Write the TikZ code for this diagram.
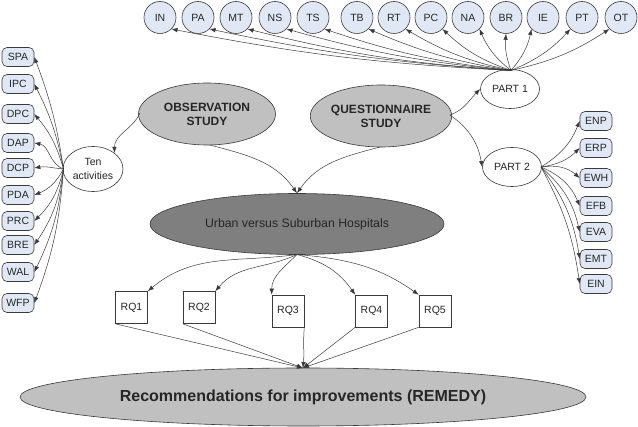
\documentclass[tikz,border=0pt]{standalone}
\usepackage{fontspec}
\setmainfont{Liberation Sans}
\usetikzlibrary{arrows.meta}
\definecolor{lblue}{HTML}{E0E8F5}
\definecolor{lgrey}{HTML}{C0C0C0}
\definecolor{dgrey}{HTML}{7F7F7F}
\definecolor{edge}{HTML}{3A3A3A}
\begin{document}
\begin{tikzpicture}[x=1pt,y=-1pt,
  every node/.style={inner sep=0pt, font=\fontsize{10.5}{12}\selectfont, text=black!85},
  circ/.style={circle, draw=edge, fill=lblue, line width=0.6pt, minimum size=32pt},
  rbox/.style={rectangle, rounded corners=5pt, draw=edge, fill=lblue, line width=0.6pt, minimum width=32pt, minimum height=19pt},
  wellip/.style={ellipse, draw=edge, fill=white, line width=0.6pt},
  gellip/.style={ellipse, draw=edge, fill=lgrey, line width=0.6pt},
  rqbox/.style={rectangle, draw=edge, fill=white, line width=0.6pt, minimum width=32pt, minimum height=32pt},
  arr/.style={draw=edge, line width=0.5pt, -{Latex[length=6pt,width=4.5pt]}},
]
\useasboundingbox (0,0) rectangle (638,427);
\usetikzlibrary{shapes.geometric}
% top circles
\foreach \n/\x in {IN/160,PA/198,MT/236,NS/275,TS/313,TB/357,RT/394,PC/431,NA/468,BR/506,IE/543,PT/582,OT/621}
  \node[circ] (\n) at (\x,17.5) {\n};
% left boxes
\foreach \n/\y in {SPA/57,IPC/84,DPC/114,DAP/143,DCP/168,PDA/195,PRC/221,BRE/245,WAL/272,WFP/303}
  \node[rbox] (\n) at (18,\y) {\n};
% right boxes
\foreach \n/\y in {ENP/121,ERP/148,EWH/178,EFB/206,EVA/232,EMT/259,EIN/284}
  \node[rbox] (\n) at (596,\y) {\n};
% main ellipses
\node[gellip, minimum width=137pt, minimum height=62pt, align=center,
  font=\fontsize{12}{14}\bfseries\selectfont] (obs) at (207,114) {OBSERVATION\\STUDY};
\node[gellip, minimum width=137pt, minimum height=62pt, align=center,
  font=\fontsize{12}{14}\bfseries\selectfont] (que) at (381,116) {QUESTIONNAIRE\\STUDY};
\node[wellip, minimum width=60pt, minimum height=45pt, align=center,
  font=\fontsize{10.5}{14}\selectfont] (ten) at (93,169) {Ten\\activities};
\node[wellip, minimum width=59pt, minimum height=39pt] (p1) at (510,89) {PART 1};
\node[wellip, minimum width=59pt, minimum height=39pt] (p2) at (512,167) {PART 2};
\node[ellipse, draw=edge, fill=dgrey, line width=0.6pt, minimum width=294pt, minimum height=61pt,
  font=\fontsize{12.3}{14}\selectfont] (urb) at (297,224) {Urban versus Suburban Hospitals};
\node[gellip, minimum width=566pt, minimum height=58pt,
  font=\fontsize{16}{18}\bfseries\selectfont] (rem) at (303,397) {Recommendations for improvements (REMEDY)};
% RQ boxes
\node[rqbox] (rq1) at (131.5,307.5) {RQ1};
\node[rqbox] (rq2) at (199,307.5) {RQ2};
\node[rqbox] (rq3) at (288,311) {RQ3};
\node[rqbox] (rq4) at (371.5,311) {RQ4};
\node[rqbox] (rq5) at (435,311) {RQ5};
% coordinates
\coordinate (p1top) at (511,70.5);
\coordinate (tenw) at (63.5,169);
\coordinate (p2e) at (541,167);
\coordinate (urbs) at (297,254.5);
\coordinate (obsl) at (140,113);
\coordinate (obsb) at (210,145);
\coordinate (queb) at (380,147);
\coordinate (quer) at (450,115);
\coordinate (remt) at (303,368);
% PART1 fan
\foreach \n/\b in {IN/4,PA/4,MT/5,NS/5,TS/6,TB/7,RT/9,PC/12,NA/14}
  \draw[arr] (p1top) to[bend left=\b] (\n.south east);
\draw[arr] (p1top) to[bend left=12] (BR.south);
\foreach \n/\b in {IE/14,PT/12,OT/10}
  \draw[arr] (p1top) to[bend right=\b] (\n.south west);
% Ten activities fan
\foreach \n/\b in {SPA/6,IPC/8,DPC/12}
  \draw[arr] (tenw) to[bend right=\b] (\n.east);
\draw[arr] (tenw) to[out=160,in=-10] (DAP.east);
\draw[arr] (tenw) to[out=175,in=10] (DCP.east);
\foreach \n/\b in {PDA/20,PRC/16,BRE/13,WAL/10,WFP/8}
  \draw[arr] (tenw) to[bend left=\b] (\n.east);
% PART2 fan
\draw[arr] (p2e) to[bend right=18] (ENP.west);
\draw[arr] (p2e) to[bend right=18] (ERP.west);
\foreach \n/\b in {EWH/25,EFB/22,EVA/18,EMT/14,EIN/10}
  \draw[arr] (p2e) to[bend left=\b] (\n.west);
% main flow
\draw[arr] (obsl) to[out=245,in=90] (ten.north east);
\draw[arr] (obsb) to[out=-15,in=125] (urb.north);
\draw[arr] (queb) to[out=195,in=55] (urb.north);
\draw[arr] (quer) to[out=20,in=225] (p1.west);
\draw[arr] (quer) to[out=-35,in=100] (p2.west);
% RQ arrows
\draw[arr] (urbs) to[out=188,in=40] (rq1.north east);
\draw[arr] (urbs) to[out=205,in=50] (rq2.north east);
\draw[arr] (urbs) to[out=225,in=90] (rq3.north west);
\draw[arr] (urbs) to[out=-15,in=125] (rq4.north west);
\draw[arr] (urbs) to[out=-5,in=145] (rq5.north west);
% to REMEDY
\draw[arr] (rq1.south west) -- (remt);
\draw[arr] (rq2.south west) -- (remt);
\draw[arr] (rq3.south east) to[out=-95,in=85] (remt);
\draw[arr] (rq4.south west) -- (remt);
\draw[arr] (rq5.south west) -- (remt);
\end{tikzpicture}
\end{document}
